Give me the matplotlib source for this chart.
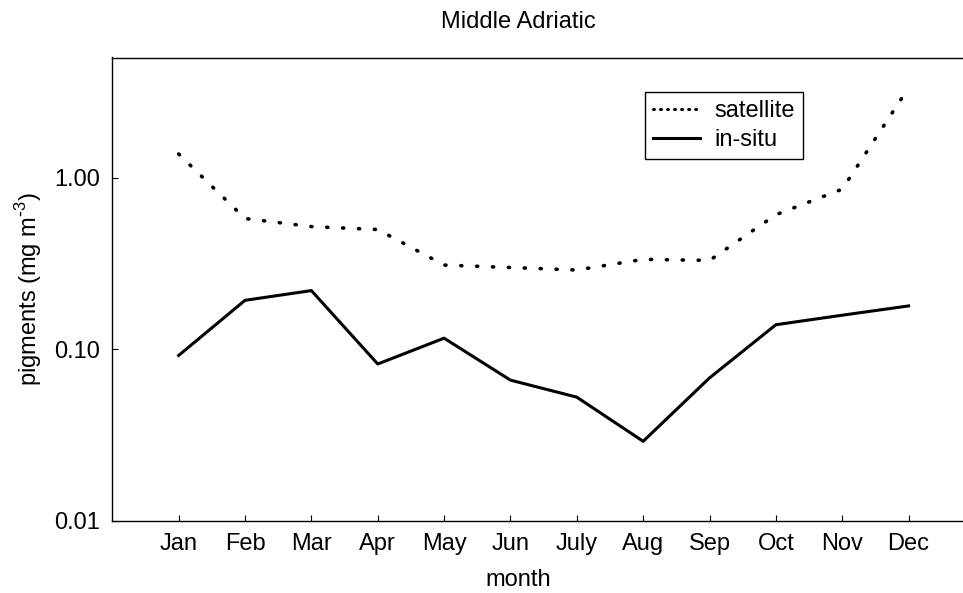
import matplotlib.pyplot as plt
from matplotlib.lines import Line2D
from matplotlib.ticker import FixedLocator, FixedFormatter, NullLocator

plt.rcParams['font.family'] = ['Liberation Sans', 'DejaVu Sans']

# data
months = ['Jan', 'Feb', 'Mar', 'Apr', 'May', 'Jun', 'July', 'Aug', 'Sep', 'Oct', 'Nov', 'Dec']
satellite = [1.38, 0.58, 0.52, 0.50, 0.31, 0.30, 0.29, 0.335, 0.33, 0.61, 0.86, 3.36]
in_situ = [0.092, 0.193, 0.22, 0.082, 0.116, 0.066, 0.0525, 0.029, 0.068, 0.139, 0.158, 0.179]
yticks = [0.01, 0.1, 1.0]
ytick_labels = ['0.01', '0.10', '1.00']

W, H = 963, 593
fs = 17
fig = plt.figure(figsize=(W / 100, H / 100), dpi=100)
ax = fig.add_axes([112.3 / W, 1 - 520.5 / H, 1 - 112.3 / W, (520.5 - 57.5) / H])

x = list(range(1, len(months) + 1))
ax.plot(x, satellite, color='black', lw=2.6, linestyle=(0, (0.3, 4.1)),
        dash_capstyle='round')
ax.plot(x, in_situ, color='black', lw=2.2)

ax.set_yscale('log')
ax.set_ylim(0.01, 5.05)
ax.set_xlim(0, 12.82)
ax.yaxis.set_major_locator(FixedLocator(yticks))
ax.yaxis.set_major_formatter(FixedFormatter(ytick_labels))
ax.yaxis.set_minor_locator(NullLocator())
ax.set_xticks(x)
ax.set_xticklabels(months)
ax.tick_params(direction='in', length=4, width=0.8, labelsize=fs, pad=9)
ax.tick_params(axis='y', pad=9)
ax.spines['right'].set_visible(False)
for s in ['top', 'bottom', 'left']:
    ax.spines[s].set_linewidth(1.0)

fig.text(518 / W, 1 - 22 / H, 'Middle Adriatic', ha='center', va='center', fontsize=fs)
fig.text(518 / W, 1 - 580 / H, 'month', ha='center', va='center', fontsize=fs)
fig.text(29 / W, 1 - 289 / H, 'pigments (mg m$^{\\mathregular{\\text{-}3}}$)', rotation=90,
         ha='center', va='center', fontsize=fs)

# legend handles (the dotted one is denser in the legend than on the plot)
handles = [Line2D([], [], color='black', lw=2.2, linestyle=(0, (0.3, 2.0)), dash_capstyle='round'),
           Line2D([], [], color='black', lw=2.2)]
leg = ax.legend(handles, ['satellite', 'in-situ'], loc='upper left',
                bbox_to_anchor=(645 / W, 1 - 91.7 / H),
                bbox_transform=fig.transFigure, fontsize=fs, fancybox=False,
                edgecolor='black', framealpha=1, borderpad=0.35, handlelength=2.0,
                handletextpad=0.6, labelspacing=0.3, borderaxespad=0)
leg.get_frame().set_linewidth(1.0)

fig.savefig('out.png', dpi=100)
